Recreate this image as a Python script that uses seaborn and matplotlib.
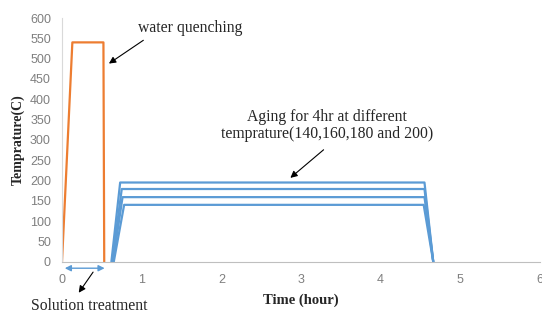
import numpy as np
import pandas as pd
import matplotlib
matplotlib.use("Agg")
from matplotlib import pyplot as plt
import seaborn as sns

# solution treatment + quench (orange)
solution_time = [0.0, 0.13, 0.52, 0.53]
solution_temp = [0, 540, 540, 0]

# aging cycles (blue), one per temperature
aging_time = {
    "200": [0.62, 0.73, 4.55, 4.66],
    "180": [0.63, 0.75, 4.55, 4.66],
    "160": [0.64, 0.76, 4.55, 4.66],
    "140": [0.65, 0.78, 4.54, 4.66],
}
aging_temp = {
    "200": [0, 195, 195, 0],
    "180": [0, 179, 179, 0],
    "160": [0, 159, 159, 0],
    "140": [0, 140, 140, 0],
}

sns.set_style("white")
plt.rcParams["font.family"] = ["Liberation Sans", "DejaVu Sans"]

fig = plt.figure(figsize=(5.42, 3.16), dpi=100)
ax = fig.add_axes([0.1144, 0.1718, 0.8819, 0.7712])

blue = "#5B9BD5"
orange = "#ED7D31"

df_sol = pd.DataFrame({"t": solution_time, "T": solution_temp})
sns.lineplot(data=df_sol, x="t", y="T", sort=False, color=orange, lw=1.6, ax=ax)
for key in aging_time:
    df = pd.DataFrame({"t": aging_time[key], "T": aging_temp[key]})
    sns.lineplot(data=df, x="t", y="T", sort=False, color=blue, lw=1.6, ax=ax)

ax.set_xlim(0, 6)
ax.set_ylim(0, 600)
ax.set_xticks(range(0, 7))
ax.set_yticks(range(0, 601, 50))
ax.tick_params(axis="y", length=0, labelsize=9, labelcolor="#7f7f7f", pad=8)
ax.tick_params(axis="x", length=0, labelsize=9, labelcolor="#7f7f7f", pad=9)
for side in ["top", "right"]:
    ax.spines[side].set_visible(False)
ax.spines["left"].set_color("#d9d9d9")
ax.spines["bottom"].set_color("#bfbfbf")

serif = ["Liberation Serif", "DejaVu Serif"]
ax.set_xlabel("Time (hour)", family=serif, fontweight="bold", fontsize=10.5, labelpad=5)
ax.set_ylabel("Temprature(C)", family=serif, fontweight="bold", fontsize=10, labelpad=4)

arrow = dict(arrowstyle="-|>", color="black", lw=0.8, mutation_scale=10)
ax.text(1.61, 576, "water quenching", family=serif, fontsize=11.3,
        ha="center", va="center")
ax.annotate("", xy=(0.56, 484), xytext=(1.05, 549), arrowprops=arrow)

ax.text(3.33, 336, "Aging for 4hr at different\ntemprature(140,160,180 and 200)",
        family=serif, fontsize=11.3, ha="center", va="center", linespacing=1.1)
ax.annotate("", xy=(2.84, 202), xytext=(3.31, 280), arrowprops=arrow)

# solution treatment span below the axis
ax.annotate("", xy=(0.0, -16), xytext=(0.57, -16), annotation_clip=False,
            arrowprops=dict(arrowstyle="<|-|>", color=blue, lw=1.0, mutation_scale=9))
ax.annotate("", xy=(0.19, -82), xytext=(0.41, -20), annotation_clip=False,
            arrowprops=arrow)
ax.text(0.345, -110, "Solution treatment", family=serif, fontsize=11.3,
        ha="center", va="center", clip_on=False)

fig.savefig("out.png", dpi=100)
